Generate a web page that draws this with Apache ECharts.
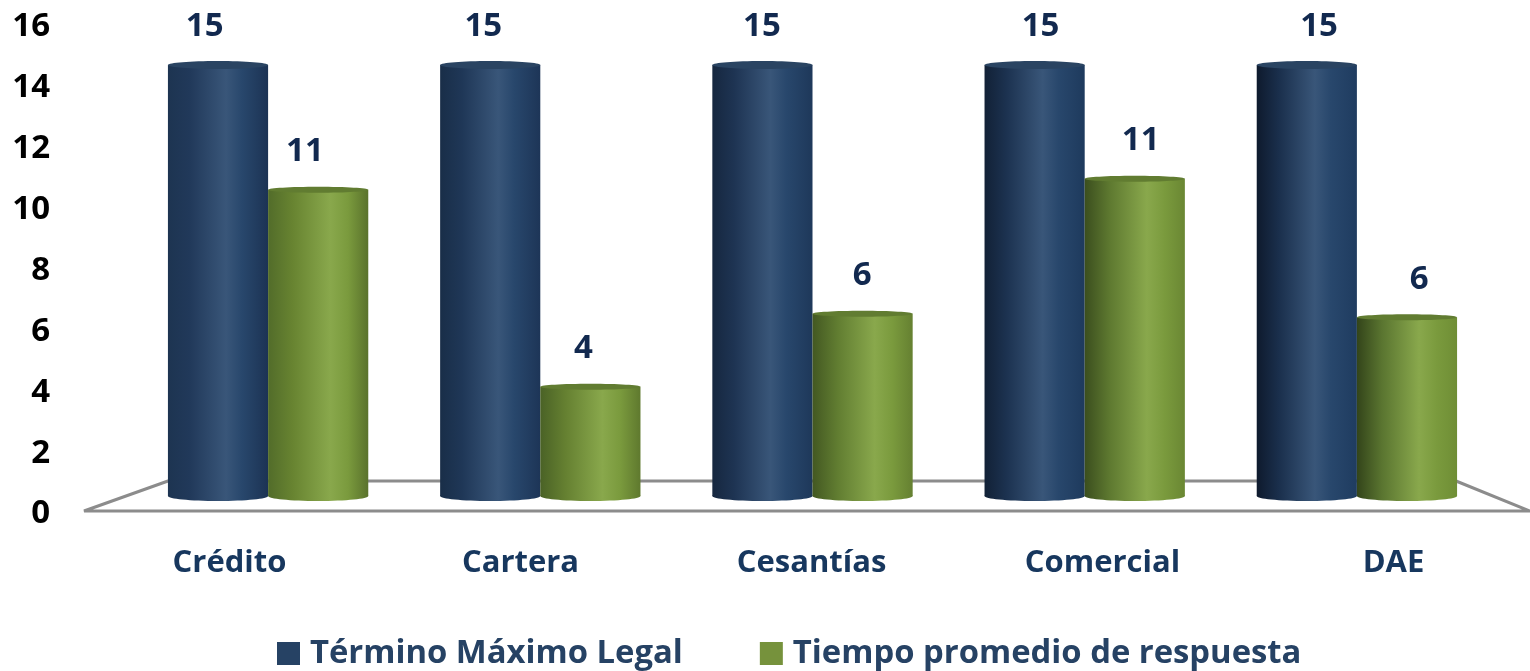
<!DOCTYPE html>
<html><head><meta charset="utf-8">
<style>html,body{margin:0;padding:0;background:#fff}#c{width:1530px;height:671px}</style>
<script src="https://cdn.jsdelivr.net/npm/echarts@6/dist/echarts.min.js"></script>
</head><body><div id="c"></div>
<script>
const categories = ['Crédito','Cartera','Cesantías','Comercial','DAE'];
const seriesNames = ['Término Máximo Legal','Tiempo promedio de respuesta'];
const termino = [15,15,15,15,15];
const tiempo = [10.66,3.8,6.34,11.04,6.22];
const yTicks = [0,2,4,6,8,10,12,14,16];

const FONT = '"Open Sans"';
const chart = echarts.init(document.getElementById('c'), null, {renderer:'canvas'});
const lerp = echarts.color.lerp;

function grad(stops){
  return {type:'linear',x:0,y:0,x2:1,y2:0,colorStops:stops.map(c=>({offset:c[0],color:c[1]}))};
}
function blueFill(i){
  const t=i/4;
  return grad([[0,lerp(t,['#1d3451','#0e1a2d'])],[0.22,lerp(t,['#21395a','#1a2f4c'])],[0.58,'#395679'],[0.74,'#28476c'],[1,lerp(t,['#1c3354','#1f3c60'])]]);
}
function greenFill(i){
  const t=i/4;
  return grad([[0,lerp(t,['#526c2a','#33441a'])],[0.25,lerp(t,['#688431','#5a7530'])],[0.62,'#89a84c'],[0.8,'#7a9a3d'],[1,lerp(t,['#5a722c','#6f8e35'])]]);
}
function cylinder(fill,top,dir,ry){
  return function(params,api){
    const i=api.value(0), v=api.value(1);
    const base=api.coord([i,0]), head=api.coord([i,v]);
    const band=api.size([1,0])[0];
    const w=band*0.368, cx=base[0]+dir*w/2, rx=w/2;
    const f=fill(i);
    const labelX=cx+(i-2)*6.4-0.5;
    return {type:'group',children:[
      {type:'ellipse',shape:{cx:cx,cy:base[1],rx:rx,ry:5},style:{fill:f}},
      {type:'rect',shape:{x:cx-rx,y:head[1],width:w,height:base[1]-head[1]},style:{fill:f}},
      {type:'ellipse',shape:{cx:cx,cy:head[1],rx:rx,ry:ry},style:{fill:top}},
      {type:'text',style:{text:String(Math.round(v)),x:labelX,y:head[1]-38,textAlign:'center',textVerticalAlign:'middle',
        font:'bold 33px '+FONT,fill:'#12294f'}}
    ]};
  };
}
const xy=a=>a.map((v,i)=>[i,v]);

chart.setOption({
  animation:false,
  backgroundColor:'#fff',
  textStyle:{fontFamily:FONT},
  legend:{left:272,top:632,itemWidth:23,itemHeight:23,itemGap:77,icon:'rect',
    textStyle:{fontFamily:FONT,fontWeight:'bold',fontSize:32.8,color:'#264264',padding:[0,0,0,5]},
    data:seriesNames},
  graphic:[{type:'polygon',z:0,shape:{points:[[84,511],[168,481],[1456,481],[1530,511]]},
    style:{fill:null,stroke:'#8c8c8c',lineWidth:3,lineJoin:'bevel'}}],
  grid:[
    {left:84,width:1455,top:27,bottom:157,outerBoundsMode:'none'},
    {left:132,width:1361,top:36.3,bottom:175,outerBoundsMode:'none'}
  ],
  xAxis:[
    {gridIndex:0,type:'category',data:categories,boundaryGap:true,
      axisLine:{show:false},axisTick:{show:false},
      axisLabel:{margin:34,fontFamily:FONT,fontWeight:'bold',fontSize:31,color:'#17375e'}},
    {gridIndex:1,type:'category',data:categories,show:false}
  ],
  yAxis:[
    {gridIndex:0,type:'value',min:yTicks[0],max:yTicks[yTicks.length-1],interval:2,
      axisLine:{show:false},axisTick:{show:false},splitLine:{show:false},
      axisLabel:{margin:34,fontFamily:FONT,fontWeight:'bold',fontSize:33,color:'#000'}},
    {gridIndex:1,type:'value',min:0,max:16,show:false}
  ],
  series:[
    {name:seriesNames[0],type:'custom',xAxisIndex:1,yAxisIndex:1,clip:false,data:xy(termino),
      itemStyle:{color:'#264264'},encode:{x:0,y:1},renderItem:cylinder(blueFill,'#2a4462',-1,4)},
    {name:seriesNames[1],type:'custom',xAxisIndex:1,yAxisIndex:1,clip:false,data:xy(tiempo),
      itemStyle:{color:'#76923c'},encode:{x:0,y:1},renderItem:cylinder(greenFill,'#617c31',1,3)}
  ]
});
</script></body></html>
